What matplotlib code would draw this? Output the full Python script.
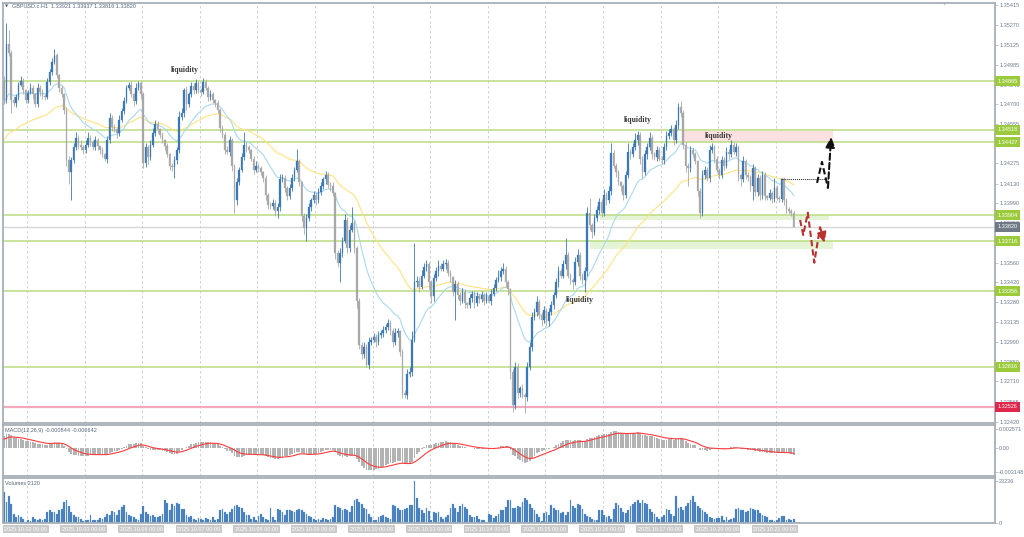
import numpy as np
import matplotlib
matplotlib.use("Agg")
import matplotlib.pyplot as plt
from matplotlib.transforms import blended_transform_factory

# GBPUSD H1 closes, Oct 2 00:00 .. Oct 21 (one per bar)
closes = [
    1.3473, 1.3513, 1.3507, 1.3473, 1.3471, 1.3475, 1.3484, 1.3487, 1.3480, 1.3473,
    1.3478, 1.3482, 1.3477, 1.3470, 1.3482, 1.3479, 1.3476, 1.3475, 1.3486, 1.3493,
    1.3500, 1.3505, 1.3491, 1.3482, 1.3477, 1.3466, 1.3430, 1.3421, 1.3430, 1.3439,
    1.3446, 1.3441, 1.3439, 1.3437, 1.3441, 1.3446, 1.3443, 1.3439, 1.3444, 1.3440,
    1.3437, 1.3434, 1.3431, 1.3444, 1.3460, 1.3454, 1.3452, 1.3449, 1.3459, 1.3465,
    1.3472, 1.3482, 1.3484, 1.3477, 1.3472, 1.3482, 1.3485, 1.3477, 1.3428, 1.3439,
    1.3432, 1.3441, 1.3449, 1.3456, 1.3452, 1.3448, 1.3444, 1.3440, 1.3434, 1.3426,
    1.3425, 1.3430, 1.3437, 1.3461, 1.3464, 1.3480, 1.3470, 1.3477, 1.3483, 1.3480,
    1.3485, 1.3480, 1.3479, 1.3486, 1.3482, 1.3475, 1.3477, 1.3473, 1.3471, 1.3466,
    1.3453, 1.3448, 1.3437, 1.3436, 1.3444, 1.3426, 1.3401, 1.3414, 1.3423, 1.3432,
    1.3441, 1.3439, 1.3437, 1.3431, 1.3423, 1.3426, 1.3424, 1.3421, 1.3417, 1.3405,
    1.3398, 1.3397, 1.3399, 1.3393, 1.3396, 1.3416, 1.3417, 1.3410, 1.3404, 1.3410,
    1.3417, 1.3423, 1.3429, 1.3414, 1.3390, 1.3381, 1.3388, 1.3396, 1.3401, 1.3405,
    1.3401, 1.3407, 1.3411, 1.3416, 1.3419, 1.3412, 1.3411, 1.3406, 1.3363, 1.3356,
    1.3363, 1.3372, 1.3387, 1.3367, 1.3380, 1.3385, 1.3367, 1.3329, 1.3297, 1.3291,
    1.3296, 1.3283, 1.3299, 1.3301, 1.3303, 1.3299, 1.3304, 1.3306, 1.3308, 1.3310,
    1.3313, 1.3307, 1.3299, 1.3306, 1.3307, 1.3292, 1.3263, 1.3261, 1.3276, 1.3278,
    1.3301, 1.3342, 1.3343, 1.3339, 1.3347, 1.3353, 1.3355, 1.3342, 1.3332, 1.3345,
    1.3350, 1.3354, 1.3352, 1.3355, 1.3356, 1.3349, 1.3346, 1.3335, 1.3341, 1.3333,
    1.3329, 1.3335, 1.3327, 1.3326, 1.3331, 1.3334, 1.3327, 1.3332, 1.3330, 1.3333,
    1.3329, 1.3332, 1.3329, 1.3334, 1.3338, 1.3344, 1.3346, 1.3350, 1.3352, 1.3342,
    1.3337, 1.3278, 1.3254, 1.3281, 1.3263, 1.3266, 1.3261, 1.3260, 1.3281, 1.3296,
    1.3317, 1.3321, 1.3328, 1.3319, 1.3315, 1.3322, 1.3314, 1.3321, 1.3326, 1.3333,
    1.3342, 1.3350, 1.3347, 1.3355, 1.3362, 1.3347, 1.3344, 1.3342, 1.3357, 1.3362,
    1.3347, 1.3344, 1.3350, 1.3392, 1.3383, 1.3378, 1.3388, 1.3394, 1.3400, 1.3392,
    1.3405, 1.3401, 1.3408, 1.3435, 1.3426, 1.3421, 1.3414, 1.3411, 1.3405, 1.3419,
    1.3436, 1.3434, 1.3439, 1.3444, 1.3448, 1.3431, 1.3421, 1.3434, 1.3439, 1.3446,
    1.3434, 1.3432, 1.3437, 1.3431, 1.3430, 1.3439, 1.3447, 1.3449, 1.3452, 1.3444,
    1.3455, 1.3468, 1.3464, 1.3441, 1.3426, 1.3424, 1.3437, 1.3434, 1.3429, 1.3408,
    1.3392, 1.3419, 1.3423, 1.3417, 1.3437, 1.3439, 1.3431, 1.3423, 1.3419, 1.3430,
    1.3426, 1.3436, 1.3434, 1.3441, 1.3436, 1.3439, 1.3419, 1.3416, 1.3429, 1.3419,
    1.3418, 1.3411, 1.3424, 1.3407, 1.3417, 1.3405, 1.3419, 1.3404, 1.3403, 1.3406,
    1.3402, 1.3410, 1.3403, 1.3402, 1.3416, 1.3401, 1.3395, 1.3393, 1.3392, 1.3382,
]
first_open = 1.3487

# wick lengths in pips above max(open, close) / below min(open, close)
upper_wick = [
    3, 15, 10, 2, 3, 2, 2, 3, 2, 1,   2, 3, 2, 1, 3, 2, 2, 1, 3, 2,
    3, 5, 2, 1, 2, 1, 2, 3, 2, 3,     4, 2, 3, 2, 3, 4, 2, 1, 3, 2,
    1, 2, 1, 3, 4, 2, 2, 1, 3, 2,     3, 2, 2, 3, 1, 3, 2, 2, 2, 3,
    2, 3, 4, 3, 2, 1, 2, 1, 2, 1,     2, 3, 2, 4, 3, 2, 3, 2, 3, 2,
    3, 2, 2, 3, 2, 1, 3, 2, 1, 2,     1, 2, 2, 3, 3, 2, 1, 3, 2, 3,
    9, 2, 2, 1, 2, 3, 2, 2, 1, 2,     1, 2, 3, 2, 3, 4, 3, 2, 1, 3,
    3, 2, 9, 2, 1, 2, 3, 3, 2, 3,     2, 3, 3, 2, 3, 2, 2, 3, 1, 2,
    4, 3, 4, 2, 3, 11, 2, 1, 2, 2,    3, 2, 4, 2, 3, 2, 3, 2, 3, 2,
    3, 2, 2, 3, 2, 1, 2, 2, 4, 3,     6, 28, 4, 3, 4, 3, 3, 2, 2, 3,
    3, 4, 2, 3, 3, 2, 2, 1, 3, 2,     2, 3, 2, 1, 3, 2, 2, 3, 2, 3,
    2, 3, 2, 3, 3, 2, 5, 3, 4, 2,     2, 1, 2, 4, 3, 2, 3, 2, 4, 3,
    4, 3, 4, 2, 2, 3, 2, 3, 3, 2,     3, 4, 2, 3, 12, 2, 2, 1, 3, 4,
    2, 2, 3, 4, 11, 2, 3, 3, 3, 2,    4, 2, 3, 7, 2, 2, 2, 1, 2, 3,
    6, 2, 3, 5, 3, 2, 2, 3, 3, 4,     2, 2, 3, 2, 2, 3, 4, 3, 3, 2,
    4, 3, 4, 2, 2, 2, 3, 2, 2, 1,     2, 4, 3, 2, 4, 3, 2, 2, 1, 3,
    2, 3, 2, 3, 2, 3, 2, 1, 4, 2,     2, 1, 3, 2, 3, 2, 3, 2, 1, 3,
    2, 7, 2, 1, 1, 2, 2, 1, 2, 2,
]
lower_wick = [
    3, 2, 2, 9, 2, 3, 2, 1, 3, 2,     2, 1, 3, 2, 2, 3, 2, 2, 1, 2,
    2, 1, 2, 3, 2, 3, 4, 8, 20, 2,    2, 3, 2, 3, 2, 2, 3, 2, 2, 3,
    3, 2, 2, 3, 2, 3, 2, 3, 2, 2,     2, 1, 2, 2, 3, 2, 2, 3, 4, 3,
    5, 2, 2, 2, 3, 2, 2, 3, 2, 3,     3, 8, 3, 2, 2, 3, 4, 2, 2, 3,
    2, 2, 3, 2, 2, 3, 2, 2, 3, 2,     3, 2, 3, 2, 3, 4, 9, 3, 2, 2,
    2, 3, 2, 2, 3, 2, 3, 2, 3, 4,     3, 2, 2, 3, 5, 3, 2, 3, 3, 2,
    2, 2, 2, 3, 4, 4, 9, 2, 3, 2,     3, 2, 2, 2, 3, 2, 3, 2, 4, 3,
    14, 3, 2, 4, 3, 2, 4, 5, 3, 4,    3, 2, 3, 2, 2, 3, 2, 2, 3, 2,
    2, 3, 3, 2, 3, 3, 4, 2, 3, 2,     3, 2, 3, 4, 2, 2, 3, 5, 5, 3,
    2, 3, 2, 2, 3, 2, 4, 3, 20, 3,    3, 2, 3, 2, 2, 3, 3, 2, 3, 2,
    3, 2, 2, 3, 2, 2, 2, 3, 2, 3,     4, 5, 5, 3, 4, 3, 2, 12, 3, 2,
    3, 2, 3, 3, 4, 2, 3, 3, 2, 3,     2, 3, 2, 2, 3, 2, 3, 5, 2, 3,
    3, 3, 9, 3, 3, 4, 2, 2, 3, 3,     2, 3, 2, 3, 2, 3, 2, 3, 4, 2,
    2, 3, 2, 2, 3, 4, 4, 2, 3, 2,     3, 2, 3, 2, 3, 3, 2, 2, 2, 3,
    2, 3, 3, 3, 5, 13, 3, 2, 2, 4,    4, 2, 3, 2, 3, 2, 3, 2, 3, 2,
    3, 2, 3, 2, 2, 3, 4, 5, 2, 3,     3, 3, 10, 3, 3, 4, 3, 3, 2, 2,
    3, 2, 2, 2, 2, 3, 3, 2, 2, 0,
]
volumes = [
    17100, 11600, 14700, 10700, 5200,
    3300, 4200, 3300, 2400, 700,
    1500, 1100, 3300, 2400, 1800, 2000, 1500, 2400,
    6100, 7000, 6100, 6100, 5200, 7000, 7900, 11600, 12500, 9200,
    6100, 4200, 3300, 3300, 2400, 900, 1500,
    1500, 4200, 1800, 1500, 1500, 2800, 2400, 3300,
    5200, 4200, 6600, 6100, 4200, 7000, 8800, 9800, 6100,
    4200, 3700, 3300, 2400, 1500, 5200,
    9200, 6100, 5200, 3700, 4200, 3300,
    3300, 3700, 5200,
    12900, 11000, 7000, 10700, 9200, 11000, 10700, 8000,
    7900, 4200, 3300, 3700, 2400, 1500, 2900,
    2400, 1500, 2900, 2400, 1500, 3300, 1800, 2400,
    7000, 7900, 6100, 5200, 6100, 7900, 9200, 9800, 8800,
    8500, 6100, 4600, 4200, 2400, 3300, 1500, 3700, 5200,
    3300, 2400, 1500, 8500, 3300, 1800, 7900, 7400, 6100,
    4200, 7400, 7000, 6400, 6100, 7000, 7900, 7400, 6100,
    5200, 3700, 3300, 2400, 1500, 2400, 1800, 2900, 2400, 1500, 2400, 3300,
    9800, 8800, 8500, 7000, 7900, 7400, 6100, 9200,
    12500, 13400, 11600, 10700, 8500, 7900,
    5200, 3300, 1800, 1500, 3300, 3700, 4200, 3300, 2900, 2400, 9800, 9200, 8500,
    7400, 7000, 7900, 8500, 9800, 9800,
    23236,
    14000, 8500, 7400, 5500, 8500, 6600,
    1500, 6100, 5500, 6100, 3300, 2400, 3300, 4200,
    8500, 10700, 8500, 6100, 9200, 10700, 8800, 7900, 4200, 3300,
    3300, 3700, 2400, 1500, 1500, 600,
    5200, 4200, 2900, 3700, 5200, 7400, 7000, 8800, 12500,
    12500, 8500, 8500, 9200, 8800, 11600, 13800, 12700, 10500,
    8500, 7000, 5200, 3300, 1100, 5500, 5900, 4200,
    9800, 8500, 7400, 7000, 5500, 6100, 4200, 6100, 12500, 9200, 8500, 10300, 9800, 7900,
    5200, 3700, 3300, 2400, 1500, 1800, 7400, 7000, 4200, 3300,
    3700, 2400, 7900, 11000, 9800, 8500, 6100, 5500, 7000, 9200,
    10700, 11600, 12500, 11000, 12900, 11000, 10700, 7900, 6100, 5200, 3300,
    2400, 3300, 4200, 7900, 7000, 5200, 3700, 14700, 8500,
    8800, 7000, 9200, 11000, 12500, 14700, 11600, 9200, 8500, 7400,
    6100, 5200, 3300, 2900, 2400, 2800,
    2800, 3700, 1800, 3300, 1500, 2400, 2900,
    7900, 8500, 7000, 7400, 6100, 6600, 8500, 7900, 7000, 7400, 5500,
    4200, 3700, 3300, 1800, 1500, 1100, 1800, 2900, 3700, 3700, 1500, 2400, 1800, 2400,
]

# indicator start values read at the left edge of the chart
ma_fast_start = 1.3470
ma_slow_start = 1.3443
macd_start = 0.0018
signal_start = 0.0011

green_levels = [1.34865, 1.34518, 1.34427, 1.33904, 1.33716, 1.33356, 1.32816]
current_level = 1.33820
red_level = 1.32526
price_ticks = [1.35415, 1.35270, 1.35125, 1.34985, 1.34840, 1.34700, 1.34555,
               1.34415, 1.34275, 1.34130, 1.33990, 1.33850, 1.33705, 1.33560,
               1.33420, 1.33280, 1.33135, 1.32990, 1.32850, 1.32710, 1.32565,
               1.32420]
date_labels = ["2025.10.02", "2025.10.03", "2025.10.06", "2025.10.07",
               "2025.10.08", "2025.10.09", "2025.10.10", "2025.10.13",
               "2025.10.14", "2025.10.15", "2025.10.16", "2025.10.17",
               "2025.10.20", "2025.10.21"]

# zones: (first bar, last bar, low price, high price)
pink_zone = (283.3, 345.4, 1.34427, 1.34505)
green_zones = [(248.3, 343.6, 1.33869, 1.33904), (244.2, 345.4, 1.33661, 1.33716)]
liquidity_labels = [(75.4, 1.34946), (264.2, 1.34587), (297.9, 1.34472), (240.0, 1.33294)]
# scenario paths (bar, price)
up_path_bars = [338.75, 340.8, 343.3, 344.6]
up_path_prices = [1.34135, 1.34286, 1.34099, 1.34465]
down_path_bars = [331.7, 333.0, 334.9, 337.6, 340.0, 341.9]
down_path_prices = [1.33869, 1.33761, 1.33921, 1.33562, 1.33817, 1.33705]
dotted_from = (323.6, 1.34161)
dotted_to = 343.3

BLUE = "#3b78b6"
GRAY = "#a8a8a8"
TXT = "#6d7d8f"
GRID = "#c9c9c9"
SPINE = "#a7afb7"
LEVEL_GREEN = "#bcdc80"
LABEL_GREEN = "#9bcb3b"
AX_FONT = ["Liberation Sans", "DejaVu Sans"]


def ema(values, period, start):
    k = 2.0 / (period + 1)
    out = np.empty(len(values))
    prev = start
    for i, v in enumerate(values):
        prev = prev + k * (v - prev)
        out[i] = prev
    return out


close = np.array(closes)
n = len(close)
x = np.arange(n)
open_ = np.concatenate([[first_open], close[:-1]])
high = np.maximum(open_, close) + np.array(upper_wick) / 10000
low = np.minimum(open_, close) - np.array(lower_wick) / 10000
up = close >= open_
colors = np.where(up, BLUE, GRAY)

ma_fast = ema(close, 20, ma_fast_start)
ma_slow = ema(close, 50, ma_slow_start)
macd = ema(close, 12, close[0]) - ema(close, 26, close[0] - macd_start)
signal = ema(macd, 9, signal_start)

W, H = 1024, 537
fig = plt.figure(figsize=(W / 100, H / 100), dpi=100)
fig.patch.set_facecolor("white")


def px_axes(x0, y0, x1, y1):
    return fig.add_axes([x0 / W, 1 - y1 / H, (x1 - x0) / W, (y1 - y0) / H])


ax = px_axes(3, 3, 995, 423)
ax_macd = px_axes(3, 425, 995, 476)
ax_vol = px_axes(3, 478, 995, 523)
xlim = (-0.42, 412.9)

for a in (ax, ax_macd, ax_vol):
    a.set_xlim(*xlim)
    a.set_xticks([])
    for s in a.spines.values():
        s.set_color(SPINE)
        s.set_linewidth(1.3)
    a.yaxis.tick_right()
    a.tick_params(axis="y", length=2, width=0.5, color=SPINE, pad=1,
                  labelsize=4, labelcolor=TXT)
    # day separators only run over the bars
    for k in range(14):
        a.axvline(9.6 + 24 * k, color=GRID, lw=0.6, ls=(0, (3, 3)), zorder=0)

# ---- price panel
ax.set_ylim(1.32411, 1.35427)
ax.set_yticks(price_ticks)
ax.set_yticklabels([f"{p:.5f}" for p in price_ticks], family=AX_FONT)

for lv in green_levels:
    ax.axhline(lv, color=LEVEL_GREEN, lw=1.1, zorder=1)
ax.axhline(current_level, color="#d6d6d6", lw=1.0, zorder=1)
ax.axhline(red_level, color="#f4a9bb", lw=1.6, zorder=1)

x0, x1, p0, p1 = pink_zone
ax.fill_between([x0, x1], p0, p1, color="#fde0e2", lw=0, zorder=0.5)
for x0, x1, p0, p1 in green_zones:
    ax.fill_between([x0, x1], p0, p1, color="#e5f4d6", lw=0, zorder=0.5)

ax.plot(x, ma_slow, color="#ffe380", lw=0.8, zorder=2)
ax.plot(x, ma_fast, color="#aad8ef", lw=0.8, zorder=2)

ax.vlines(x, low, high, colors=colors, lw=0.6, zorder=3)
ax.bar(x, np.maximum(np.abs(close - open_), 0.00002), bottom=np.minimum(open_, close),
       width=0.7, color=colors, edgecolor=colors, lw=0.2, zorder=3)

for bx, py in liquidity_labels:
    ax.text(bx, py, "liquidity", ha="center", va="center", fontsize=5.6,
            family=["Liberation Serif", "DejaVu Serif"], weight="bold",
            color="#3a3a3a", zorder=5)

ax.plot([dotted_from[0], dotted_to], [dotted_from[1], dotted_from[1]],
        color="#222222", lw=0.7, ls=(0, (1, 1)), zorder=5)

arrow_kw = dict(arrowstyle="-|>,head_length=0.6,head_width=0.28",
                lw=1.5, ls=(0, (3, 1.5)), shrinkA=0, shrinkB=0)
ax.plot(up_path_bars[:-1], up_path_prices[:-1], color="#111111", lw=1.5,
        ls=(0, (3, 1.5)), zorder=5)
ax.annotate("", xy=(up_path_bars[-1], up_path_prices[-1]),
            xytext=(up_path_bars[-2], up_path_prices[-2]),
            arrowprops=dict(color="#111111", **arrow_kw), zorder=5)
ax.plot(down_path_bars[:-1], down_path_prices[:-1], color="#b83232", lw=1.5,
        ls=(0, (3, 1.5)), zorder=5)
ax.annotate("", xy=(down_path_bars[-1], down_path_prices[-1]),
            xytext=(down_path_bars[-2], down_path_prices[-2]),
            arrowprops=dict(color="#b83232", **arrow_kw), zorder=5)

ytr = ax.get_yaxis_transform()
for lv in green_levels:
    ax.text(1.0025, lv, f"{lv:.5f}", transform=ytr, ha="left", va="center",
            fontsize=4, family=AX_FONT, color="white", clip_on=False, zorder=6,
            bbox=dict(boxstyle="square,pad=0.45", fc=LABEL_GREEN, ec="none"))
ax.text(1.0025, current_level, f"{current_level:.5f}", transform=ytr, ha="left",
        va="center", fontsize=4, family=AX_FONT, color="white", clip_on=False,
        zorder=6, bbox=dict(boxstyle="square,pad=0.45", fc="#6f7a86", ec="none"))
ax.text(1.0025, red_level, f"{red_level:.5f}", transform=ytr, ha="left",
        va="center", fontsize=4, family=AX_FONT, color="white", clip_on=False,
        zorder=6, bbox=dict(boxstyle="square,pad=0.45", fc="#e0264a", ec="none"))

fig.text(5 / W, 1 - 7 / H, "\u25bc", fontsize=3, color="#56677a", va="center")
fig.text(12 / W, 1 - 7 / H, "GBPUSD.c.H1  1.33921 1.33937 1.33816 1.33820",
         fontsize=4, family=AX_FONT, color="#56677a", va="center")
fig.text(945 / W, 1 - 4 / H, "\u25bc", fontsize=3, color="#b0b0b0",
         va="center", ha="center")

# ---- MACD panel
ax_macd.set_ylim(-0.00368, 0.003103)
ax_macd.bar(x, macd, width=0.75, color="#b3b3b3", lw=0, zorder=2)
ax_macd.plot(x, signal, color="#ff3b3b", lw=0.8, zorder=3)
ax_macd.set_yticks([0.002571, 0.0, -0.003148])
ax_macd.set_yticklabels(["0.002571", "0.00", "-0.003148"], family=AX_FONT)
ax_macd.text(0.002, 0.9, "MACD(12,26,9) -0.000844 -0.000642", transform=ax_macd.transAxes,
             fontsize=4, family=AX_FONT, color="#56677a", va="center")

# ---- volume panel
ax_vol.set_ylim(0, 24900)
ax_vol.bar(x, volumes, width=0.75, color="#3f7abb", edgecolor="#7fa9d6",
           lw=0.2, zorder=2)
ax_vol.set_yticks([23236, 0])
ax_vol.set_yticklabels(["23236", "0"], family=AX_FONT)
ax_vol.text(0.002, 0.88, "Volumes 2120", transform=ax_vol.transAxes,
            fontsize=4, family=AX_FONT, color="#56677a", va="center")

btr = blended_transform_factory(ax_vol.transData, ax_vol.transAxes)
for k, lab in enumerate(date_labels):
    ax_vol.text(24 * k + 0.2, -0.14, lab + " 00:00", transform=btr, ha="left",
                va="center", fontsize=4, family=AX_FONT, color="white",
                clip_on=False, bbox=dict(boxstyle="square,pad=0.3",
                                         fc="#cacaca", ec="none"))

fig.savefig("out.png", dpi=100)
